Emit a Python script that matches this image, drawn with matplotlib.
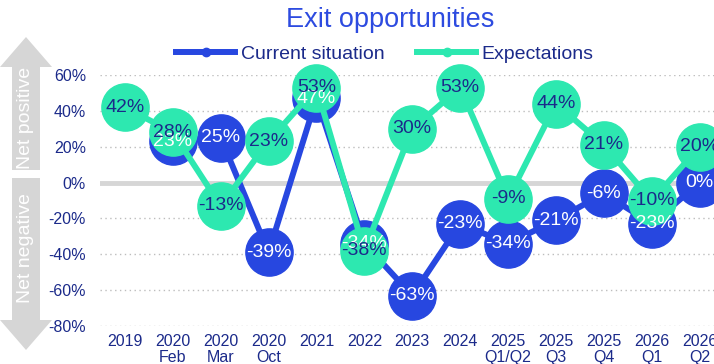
import numpy as np
import matplotlib
matplotlib.use('Agg')
import matplotlib.pyplot as plt
from matplotlib.lines import Line2D
from matplotlib.patches import Polygon

plt.rcParams['font.family'] = ['Liberation Sans', 'DejaVu Sans']

# Data
categories = ["2019", "2020\nFeb", "2020\nMar", "2020\nOct", "2021", "2022", "2023",
              "2024", "2025\nQ1/Q2", "2025\nQ3", "2025\nQ4", "2026\nQ1", "2026\nQ2"]
current = [np.nan, 23, 25, -39, 47, -34, -63, -23, -34, -21, -6, -23, 0]
expectations = [42, 28, -13, 23, 53, -38, 30, 53, -9, 44, 21, -10, 20]
y_ticks = [60, 40, 20, 0, -20, -40, -60, -80]

BLUE = "#2747E0"
GREEN = "#2DE8B0"
NAVY = "#1B2A8A"
GREY = "#D6D6D6"

W, H = 714, 364
fig = plt.figure(figsize=(W / 100, H / 100), dpi=100)


def fx(px):
    return px / W


def fy(py):
    return 1 - py / H


# Axes: x from 100px to right edge, y from 75px (60%) to 326px (-80%)
ax = fig.add_axes([fx(100), fy(326), 1 - fx(100), (326 - 75) / H])
x = np.arange(len(categories))

ax.plot(x, current, color=BLUE, lw=4.3, marker='o', ms=34, zorder=3, clip_on=False)
ax.plot(x, expectations, color=GREEN, lw=4.3, marker='o', ms=34, zorder=4, clip_on=False)

for xi, v in zip(x, current):
    if not np.isnan(v):
        ax.text(xi, v, "%d%%" % v, color="white", fontsize=14, ha='center', va='center',
                zorder=5, clip_on=False)
for xi, v in zip(x, expectations):
    ax.text(xi, v, "%d%%" % v, color=NAVY, fontsize=14, ha='center', va='center',
            zorder=6, clip_on=False)

# grid lines
for t in y_ticks:
    if t == 0:
        ax.axhline(0, color=GREY, lw=3.5, zorder=1)
    else:
        ax.axhline(t, color="#BDBDBD", lw=1, ls=(0, (1, 2.5)), zorder=1)

ax.set_xlim(-0.52, 12.3)
ax.set_ylim(-80, 60)
ax.set_xticks(x)
ax.set_xticklabels(categories, color=NAVY, fontsize=11.5, linespacing=1.05)
ax.set_yticks(y_ticks)
ax.set_yticklabels(["%d%%" % t for t in y_ticks], color=NAVY, fontsize=11.5)
ax.tick_params(length=0)
ax.tick_params(axis='y', pad=10)
ax.tick_params(axis='x', pad=6)
for s in ax.spines.values():
    s.set_visible(False)

# side arrows
up = [(0, 67), (12, 67), (12, 170), (40, 170), (40, 67), (52, 67), (26, 37)]
down = [(0, 320), (12, 320), (12, 178), (40, 178), (40, 320), (52, 320), (26, 350)]
for pts in (up, down):
    fig.patches.append(Polygon([(fx(a), fy(b)) for a, b in pts], closed=True,
                               transform=fig.transFigure, facecolor=GREY, edgecolor='none'))
fig.text(fx(26), fy(118), "Net positive", rotation=90, color="white", fontsize=14,
         ha='center', va='center')
fig.text(fx(26), fy(248), "Net negative", rotation=90, color="white", fontsize=14,
         ha='center', va='center')

# title and legend
fig.text(fx(390), fy(20), "Exit opportunities", color="#2D4BE0", fontsize=19.5,
         ha='center', va='center')
handles = [Line2D([0], [0], color=BLUE, lw=4.3, marker='o', ms=6),
           Line2D([0], [0], color=GREEN, lw=4.3, marker='o', ms=6)]
leg = fig.legend(handles, ["Current situation", "Expectations"], loc='center',
                 bbox_to_anchor=(fx(385), fy(54)), ncol=2, frameon=False, fontsize=14,
                 handlelength=3.0, handletextpad=0.3, columnspacing=1.7, labelcolor=NAVY)

plt.savefig("out.png", dpi=100)
